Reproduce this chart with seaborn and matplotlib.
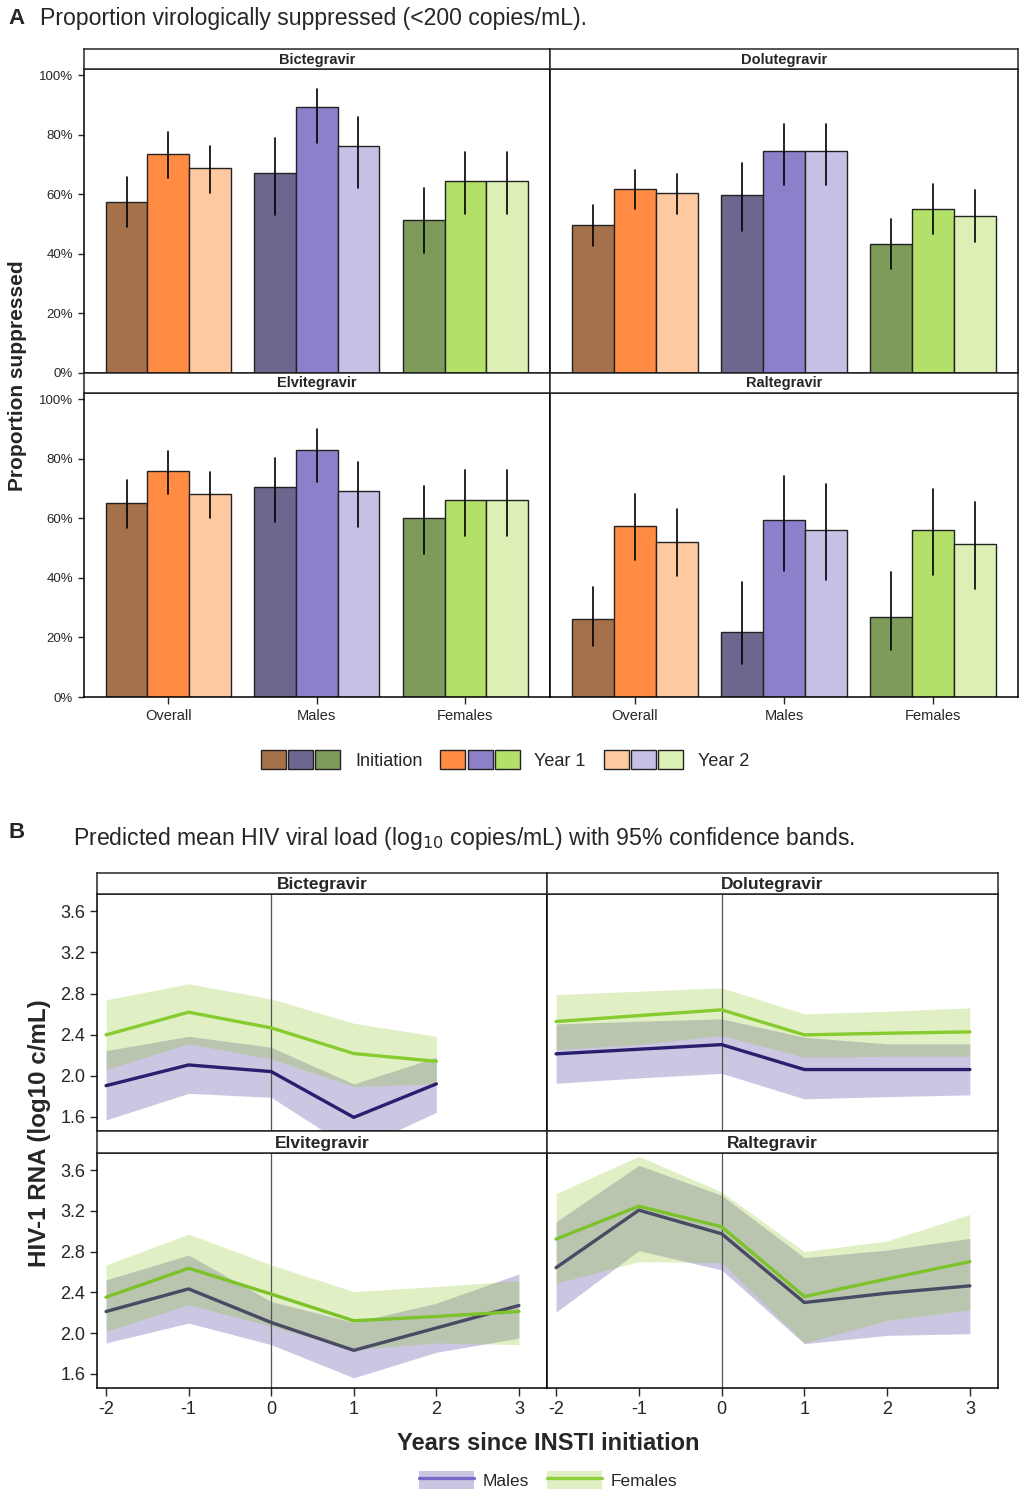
import matplotlib
matplotlib.use("Agg")
import matplotlib.pyplot as plt
from matplotlib.patches import Patch
from matplotlib.lines import Line2D
from matplotlib.legend_handler import HandlerTuple
import seaborn as sns
import pandas as pd

# ---- panel A data: % suppressed, order = Overall(Init, Y1, Y2), Males(...), Females(...)
groups = ["Overall", "Males", "Females"]
periods = ["Initiation", "Year 1", "Year 2"]
drugs = ["Bictegravir", "Dolutegravir", "Elvitegravir", "Raltegravir"]

bic_est = [57.2, 73.6, 68.8, 67.2, 89.1, 76.1, 51.2, 64.4, 64.4]
bic_lo = [48.8, 65.3, 60.2, 52.9, 77.0, 62.1, 40.3, 53.2, 53.2]
bic_hi = [65.7, 80.7, 76.2, 79.0, 95.2, 85.9, 62.1, 74.2, 74.2]

dol_est = [49.5, 61.8, 60.2, 59.6, 74.6, 74.6, 43.3, 55.1, 52.7]
dol_lo = [42.6, 54.8, 53.2, 47.7, 63.0, 63.0, 34.9, 46.4, 44.0]
dol_hi = [56.3, 68.2, 66.8, 70.4, 83.4, 83.4, 51.7, 63.3, 61.2]

elv_est = [65.2, 76.0, 68.3, 70.6, 82.9, 69.1, 60.0, 66.0, 66.0]
elv_lo = [56.8, 68.0, 60.0, 58.6, 72.0, 57.1, 47.9, 53.9, 53.9]
elv_hi = [72.8, 82.4, 75.6, 80.2, 89.9, 78.9, 70.8, 76.3, 76.3]

ral_est = [26.1, 57.5, 51.9, 21.9, 59.3, 56.1, 26.8, 55.9, 51.2]
ral_lo = [17.2, 46.0, 40.7, 11.0, 42.2, 39.3, 15.8, 40.9, 36.3]
ral_hi = [37.0, 68.0, 63.0, 38.7, 74.3, 71.6, 41.8, 69.9, 65.4]

bar_colors = [
    ["#A5714A", "#FF8C42", "#FEC8A0"],
    ["#6F668F", "#8E7FCB", "#C8BFE6"],
    ["#7E9B5A", "#B2E068", "#DCEFB4"],
]

# ---- panel B data: predicted log10 viral load
years = [-2, -1, 0, 1, 2, 3]

bic_m = [1.902, 2.104, 2.039, 1.593, 1.919]
bic_m_lo = [1.568, 1.827, 1.788, 1.27, 1.642]
bic_m_hi = [2.244, 2.383, 2.276, 1.919, 2.179]
bic_f = [2.397, 2.618, 2.465, 2.215, 2.139]
bic_f_lo = [2.059, 2.309, 2.163, 1.893, 1.919]
bic_f_hi = [2.739, 2.895, 2.748, 2.510, 2.383]

dol_m = [2.212, 2.257, 2.302, 2.059, 2.059, 2.059]
dol_m_lo = [1.925, 1.977, 2.022, 1.773, 1.795, 1.812]
dol_m_hi = [2.504, 2.530, 2.553, 2.374, 2.309, 2.309]
dol_f = [2.527, 2.585, 2.641, 2.397, 2.413, 2.426]
dol_f_lo = [2.254, 2.302, 2.390, 2.179, 2.188, 2.188]
dol_f_hi = [2.790, 2.822, 2.856, 2.602, 2.627, 2.660]

elv_m = [2.212, 2.434, 2.104, 1.830, 2.050, 2.271]
elv_m_lo = [1.903, 2.098, 1.886, 1.560, 1.811, 1.951]
elv_m_hi = [2.523, 2.767, 2.310, 2.105, 2.294, 2.581]
elv_f = [2.353, 2.637, 2.383, 2.121, 2.163, 2.212]
elv_f_lo = [2.017, 2.278, 2.065, 1.837, 1.903, 1.886]
elv_f_hi = [2.670, 2.973, 2.670, 2.408, 2.457, 2.516]

ral_m = [2.643, 3.208, 2.976, 2.300, 2.392, 2.464]
ral_m_lo = [2.206, 2.810, 2.621, 1.896, 1.977, 1.994]
ral_m_hi = [3.094, 3.649, 3.355, 2.741, 2.816, 2.931]
ral_f = [2.924, 3.247, 3.045, 2.359, 2.532, 2.702]
ral_f_lo = [2.490, 2.702, 2.692, 1.903, 2.124, 2.229]
ral_f_hi = [3.372, 3.737, 3.388, 2.800, 2.905, 3.166]

sns.set_style("ticks")
plt.rcParams["font.family"] = ["Liberation Sans", "DejaVu Sans"]

W, H = 1024, 1500
fig = plt.figure(figsize=(W / 100, H / 100), dpi=100)


def rect(x0, y0, x1, y1):
    return [x0 / W, 1 - y1 / H, (x1 - x0) / W, (y1 - y0) / H]


def strip(x0, y0, x1, y1, label, size):
    s = fig.add_axes(rect(x0, y0, x1, y1))
    s.set_xticks([])
    s.set_yticks([])
    for sp in s.spines.values():
        sp.set_linewidth(1.1)
    s.text(0.5, 0.45, label, ha="center", va="center", fontweight="bold",
           fontsize=size, transform=s.transAxes)


def style_axes(ax):
    for sp in ax.spines.values():
        sp.set_visible(True)
        sp.set_linewidth(1.1)
        sp.set_color("black")


# ================= Panel A =================
a_data = [(bic_est, bic_lo, bic_hi), (dol_est, dol_lo, dol_hi),
          (elv_est, elv_lo, elv_hi), (ral_est, ral_lo, ral_hi)]
a_cols = [(83.5, 550), (550, 1018)]
a_rows = [(49.5, 68.5, 372.5), (372.5, 392.5, 697)]
bar_width = 0.84

for i, drug in enumerate(drugs):
    r, c = divmod(i, 2)
    x0, x1 = a_cols[c]
    s0, b0, b1 = a_rows[r]
    est, lo, hi = a_data[i]
    rows = []
    k = 0
    for g in groups:
        for p in periods:
            for v in (lo[k], est[k], hi[k]):
                rows.append({"group": g, "period": p, "value": v})
            k += 1
    df = pd.DataFrame(rows)
    ax = fig.add_axes(rect(x0, b0, x1, b1))
    sns.barplot(data=df, x="group", y="value", hue="period", order=groups,
                hue_order=periods, estimator="median",
                errorbar=lambda v: (v.min(), v.max()), width=bar_width,
                err_kws={"color": "black", "linewidth": 1.2},
                edgecolor="#222222", linewidth=1.0, legend=False, ax=ax)
    for bar in ax.patches:
        cx = bar.get_x() + bar.get_width() / 2
        gi = int(round(cx))
        pi = int(round((cx - gi) / (bar_width / 3))) + 1
        bar.set_facecolor(bar_colors[gi][pi])
        bar.set_alpha(1)
    ax.set_xlim(-0.57, 2.57)
    ax.set_ylim(0, 102.2)
    ax.set_xlabel("")
    ax.set_ylabel("")
    ax.set_yticks(range(0, 101, 20))
    if c == 0:
        ax.set_yticklabels([f"{v}%" for v in range(0, 101, 20)], fontsize=9.5)
        ax.tick_params(axis="y", length=4, width=1)
    else:
        ax.tick_params(axis="y", left=False, labelleft=False)
    if r == 1:
        ax.tick_params(axis="x", length=5, width=1, labelsize=10.5)
    else:
        ax.tick_params(axis="x", bottom=False, labelbottom=False)
    style_axes(ax)
    strip(x0, s0, x1, b0, drug, 10.5)

fig.text(8 / W, 1 - 18 / H, "A", fontsize=16, fontweight="bold", va="center")
fig.text(40 / W, 1 - 18 / H, "Proportion virologically suppressed (<200 copies/mL).",
         fontsize=16.6, va="center")
fig.text(18 / W, 1 - 376 / H, "Proportion suppressed", rotation=90, fontsize=15,
         fontweight="bold", ha="center", va="center")

leg_a = [tuple(Patch(facecolor=bar_colors[g][p], edgecolor="#222222", linewidth=1)
               for g in range(3)) for p in range(3)]
fig.legend(leg_a, periods, handler_map={tuple: HandlerTuple(ndivide=None, pad=0.12)},
           ncol=3, frameon=False, loc="center", bbox_to_anchor=(505 / W, 1 - 760 / H),
           fontsize=13, handlelength=4.4, handleheight=1.25, columnspacing=1.0,
           handletextpad=0.8)

# ================= Panel B =================
b_data = [
    (bic_m, bic_m_lo, bic_m_hi, bic_f, bic_f_lo, bic_f_hi),
    (dol_m, dol_m_lo, dol_m_hi, dol_f, dol_f_lo, dol_f_hi),
    (elv_m, elv_m_lo, elv_m_hi, elv_f, elv_f_lo, elv_f_hi),
    (ral_m, ral_m_lo, ral_m_hi, ral_f, ral_f_lo, ral_f_hi),
]
b_cols = [(97, 547), (547, 998)]
b_rows = [(873, 894, 1131), (1131, 1153, 1388)]
line_cols = [{"Males": "#2A1F6F", "Females": "#86CC2E"},
             {"Males": "#494A63", "Females": "#7CC22A"}]
band_m = "#7B70B5"
band_f = "#8BC31B"

for i, drug in enumerate(drugs):
    r, c = divmod(i, 2)
    x0, x1 = b_cols[c]
    s0, b0, b1 = b_rows[r]
    m, m_lo, m_hi, f, f_lo, f_hi = b_data[i]
    yrs = years[:len(m)]
    df = pd.DataFrame({"year": yrs * 2, "sex": ["Males"] * len(m) + ["Females"] * len(f),
                       "load": m + f})
    ax = fig.add_axes(rect(x0, b0, x1, b1))
    ax.fill_between(yrs, m_lo, m_hi, color=band_m, alpha=0.39, linewidth=0)
    ax.fill_between(yrs, f_lo, f_hi, color=band_f, alpha=0.25, linewidth=0)
    ax.axvline(0, color="#555555", linewidth=0.9, zorder=1.5)
    sns.lineplot(data=df, x="year", y="load", hue="sex", palette=line_cols[r],
                 linewidth=2.4, legend=False, ax=ax, zorder=3)
    ax.set_xlim(-2.11, 3.34)
    ax.set_ylim(1.46, 3.77)
    ax.set_xlabel("")
    ax.set_ylabel("")
    ax.set_yticks([1.6, 2.0, 2.4, 2.8, 3.2, 3.6])
    ax.set_xticks(years)
    if c == 0:
        ax.set_yticklabels(["1.6", "2.0", "2.4", "2.8", "3.2", "3.6"], fontsize=13)
        ax.tick_params(axis="y", length=5, width=1)
    else:
        ax.tick_params(axis="y", left=False, labelleft=False)
    if r == 1:
        ax.set_xticklabels([str(y) for y in years], fontsize=13)
        ax.tick_params(axis="x", length=6, width=1)
    else:
        ax.tick_params(axis="x", bottom=False, labelbottom=False)
    style_axes(ax)
    strip(x0, s0, x1, b0, drug, 12.5)

fig.text(8 / W, 1 - 833 / H, "B", fontsize=16, fontweight="bold", va="center")
fig.text(73 / W, 1 - 838 / H,
         "Predicted mean HIV viral load (log$_{10}$ copies/mL) with 95% confidence bands.",
         fontsize=16.6, va="center")
fig.text(40 / W, 1 - 1133 / H, "HIV-1 RNA (log10 c/mL)", rotation=90, fontsize=17.4,
         fontweight="bold", ha="center", va="center")
fig.text(548 / W, 1 - 1443 / H, "Years since INSTI initiation", fontsize=17,
         fontweight="bold", ha="center", va="center")

leg_b = [(Patch(facecolor=band_m, alpha=0.39, linewidth=0), Line2D([], [], color="#7B68C8", lw=2.4)),
         (Patch(facecolor=band_f, alpha=0.25, linewidth=0), Line2D([], [], color="#8ED13A", lw=2.4))]
fig.legend(leg_b, ["Males", "Females"], handler_map={tuple: HandlerTuple(ndivide=1)},
           ncol=2, frameon=False, loc="center", bbox_to_anchor=(548 / W, 1 - 1480 / H),
           fontsize=12.5, handlelength=3.2, handleheight=1.3, columnspacing=1.0,
           handletextpad=0.5)

fig.savefig("out.png", dpi=100)
